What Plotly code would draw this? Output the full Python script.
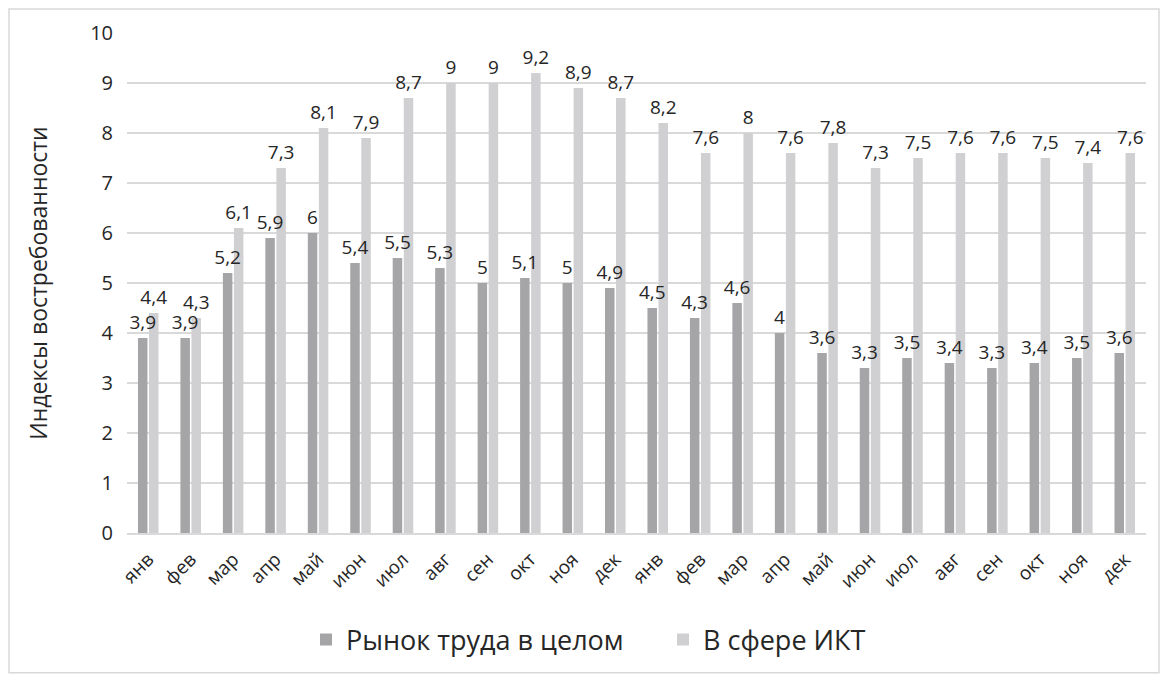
import plotly.graph_objects as go

months = ["янв", "фев", "мар", "апр", "май", "июн", "июл", "авг", "сен", "окт", "ноя", "дек",
          "янв", "фев", "мар", "апр", "май", "июн", "июл", "авг", "сен", "окт", "ноя", "дек"]
overall = [3.9, 3.9, 5.2, 5.9, 6, 5.4, 5.5, 5.3, 5, 5.1, 5, 4.9,
           4.5, 4.3, 4.6, 4, 3.6, 3.3, 3.5, 3.4, 3.3, 3.4, 3.5, 3.6]
ict = [4.4, 4.3, 6.1, 7.3, 8.1, 7.9, 8.7, 9, 9, 9.2, 8.9, 8.7,
       8.2, 7.6, 8, 7.6, 7.8, 7.3, 7.5, 7.6, 7.6, 7.5, 7.4, 7.6]
series_names = ["Рынок труда в целом", "В сфере ИКТ"]
y_title = "Индексы востребованности"
y_ticks = [0, 1, 2, 3, 4, 5, 6, 7, 8, 9, 10]

x = list(range(len(months)))


def fmt(v):
    s = ("%g" % v)
    return s.replace(".", ",")


FONT = "Open Sans"
TXT = "#262626"

W, H = 1152, 667
L, R, T, B = 119, 14, 25, 141
PW, PH = W - L - R, H - T - B

series = [(series_names[0], overall, "#a5a5a8", "g1"), (series_names[1], ict, "#d0d0d2", "g2")]

fig = go.Figure()
# bars
for name, vals, col, grp in series:
    fig.add_trace(go.Bar(
        x=x, y=vals, name=name, offsetgroup=grp,
        marker=dict(color=col, line=dict(width=0)),
        hoverinfo="y",
    ))
# value labels drawn on top of all bars (same positions, transparent bars)
for name, vals, col, grp in series:
    fig.add_trace(go.Bar(
        x=x, y=vals, name=name, offsetgroup=grp, showlegend=False,
        marker=dict(color="rgba(0,0,0,0)", line=dict(width=0)),
        text=[fmt(v) for v in vals], textposition="outside", constraintext="none",
        cliponaxis=False, textfont=dict(family=FONT, size=19, color=TXT),
        hoverinfo="skip",
    ))

fig.update_layout(
    width=W, height=H,
    margin=dict(l=L, r=R, t=T, b=B),
    paper_bgcolor="white", plot_bgcolor="white",
    barmode="group", bargap=0.48, bargroupgap=0.14,
    font=dict(family=FONT, color=TXT),
    showlegend=True,
    legend=dict(orientation="h", x=(298 - L) / PW, xanchor="left", y=-106 / PH, yanchor="middle",
                font=dict(family=FONT, size=27, color=TXT), itemsizing="constant",
                traceorder="normal", itemwidth=30, entrywidth=312, entrywidthmode="pixels"),
    xaxis=dict(tickmode="array", tickvals=x, ticktext=months, tickangle=-45,
               tickfont=dict(family=FONT, size=19, color=TXT), range=[-0.5, 23.5],
               showline=True, linecolor="#d9d9d9", linewidth=1.5, ticks="", showgrid=False,
               zeroline=False, ticklabelstandoff=6),
    yaxis=dict(range=[0, 10], tickvals=y_ticks, showgrid=True, gridcolor="#d9d9d9", gridwidth=1.5,
               tickfont=dict(family=FONT, size=20, color=TXT), zeroline=False, ticks="",
               ticklabelstandoff=13,
               title=dict(text=y_title, font=dict(family=FONT, size=23, color=TXT), standoff=36)),
    shapes=[dict(type="rect", xref="paper", yref="paper",
                 x0=(1 - L) / PW, x1=(W - 1 - L) / PW,
                 y0=-(B - 1) / PH, y1=(PH + T - 1) / PH,
                 line=dict(color="#d9d9d9", width=1.5), fillcolor="rgba(0,0,0,0)", layer="below")],
)

fig.write_html("out.html")
